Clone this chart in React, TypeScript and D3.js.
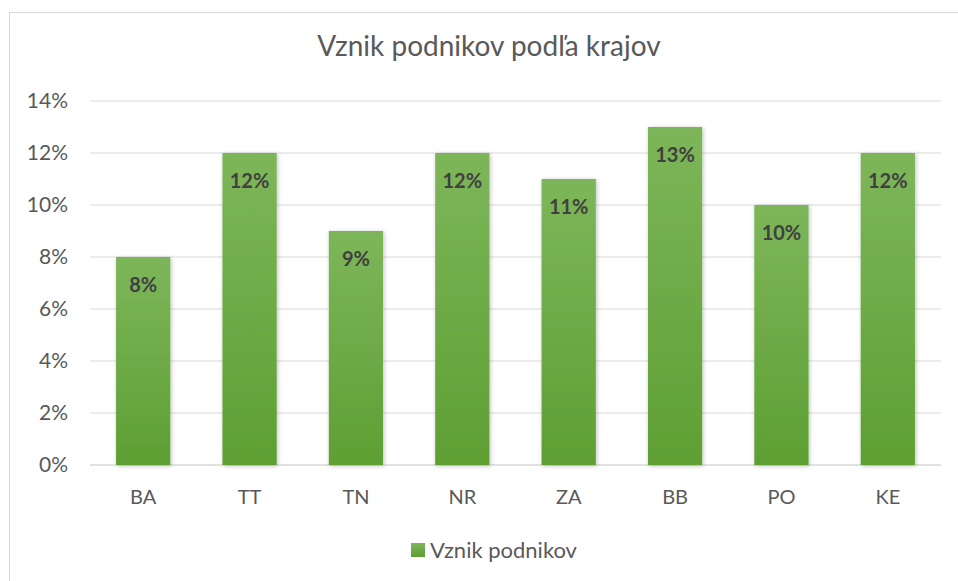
import React from "react";
import * as d3 from "d3";

const categories = ["BA", "TT", "TN", "NR", "ZA", "BB", "PO", "KE"];
const values = [8, 12, 9, 12, 11, 13, 10, 12];
const yTicks = [0, 2, 4, 6, 8, 10, 12, 14];
const title = "Vznik podnikov podľa krajov";
const seriesName = "Vznik podnikov";

const W = 958;
const H = 581;
const FONT = "Lato, 'Open Sans', 'Noto Sans', sans-serif";

export default function App() {
  const left = 90, right = 941, top = 101, bottom = 465;
  const x = d3.scaleBand<string>().domain(categories).range([left, right]).paddingInner(0.49).paddingOuter(0.245);
  const y = d3.scaleLinear().domain([0, 14]).range([bottom, top]);
  return (
    <div style={{ position: "fixed", left: 0, top: 0 }}>
      <svg width={W} height={H} style={{ display: "block", background: "#fff" }}>
        <defs>
          <linearGradient id="barGrad" x1="0" y1="0" x2="0" y2="1">
            <stop offset="0%" stopColor="#7db65a" />
            <stop offset="100%" stopColor="#5e9f33" />
          </linearGradient>
          <filter id="shadow" x="-20%" y="-5%" width="140%" height="110%">
            <feDropShadow dx="1" dy="1" stdDeviation="2" floodColor="#000" floodOpacity="0.25" />
          </filter>
        </defs>
        <rect x={9.5} y={12.5} width={W} height={H} fill="#fff" stroke="#d9d9d9" strokeWidth={1} />
        <text x={489} y={56} textAnchor="middle" fontFamily={FONT} fontSize={28} fill="#595959">
          {title}
        </text>
        {yTicks.map((t) => (
          <g key={t}>
            <line x1={left} x2={right} y1={y(t)} y2={y(t)} stroke="#d9d9d9" strokeWidth={t === 0 ? 1.5 : 1} />
            <text x={68} y={y(t)} dy="0.35em" textAnchor="end" fontFamily={FONT} fontSize={21} fill="#595959">
              {t}%
            </text>
          </g>
        ))}
        {categories.map((c, i) => (
          <g key={c}>
            <rect
              x={x(c)}
              y={y(values[i])}
              width={x.bandwidth()}
              height={bottom - y(values[i])}
              fill="url(#barGrad)"
              filter="url(#shadow)"
            />
            <text
              x={(x(c) as number) + x.bandwidth() / 2}
              y={y(values[i]) + 28}
              dy="0.35em"
              textAnchor="middle"
              fontFamily={FONT}
              fontWeight="bold"
              fontSize={20}
              fill="#404040"
            >
              {values[i]}%
            </text>
            <text
              x={(x(c) as number) + x.bandwidth() / 2}
              y={497}
              dy="0.35em"
              textAnchor="middle"
              fontFamily={FONT}
              fontSize={20}
              fill="#595959"
            >
              {c}
            </text>
          </g>
        ))}
        <rect x={411} y={543} width={14} height={14} fill="url(#barGrad)" />
        <text x={430} y={550} dy="0.35em" fontFamily={FONT} fontSize={22} fill="#595959">
          {seriesName}
        </text>
      </svg>
    </div>
  );
}
